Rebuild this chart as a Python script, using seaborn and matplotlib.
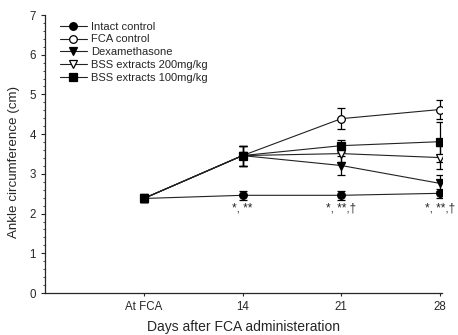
import matplotlib
matplotlib.use("Agg")
import matplotlib.pyplot as plt
import seaborn as sns
import pandas as pd
from matplotlib.ticker import MultipleLocator

# data
days = ["At FCA", "14", "21", "28"]
groups = ["Intact control", "FCA control", "Dexamethasone",
          "BSS extracts 200mg/kg", "BSS extracts 100mg/kg"]
intact = [2.38, 2.46, 2.46, 2.51]
fca = [2.38, 3.46, 4.39, 4.62]
dexa = [2.38, 3.46, 3.21, 2.76]
bss200 = [2.38, 3.46, 3.51, 3.41]
bss100 = [2.38, 3.46, 3.71, 3.81]
intact_err = [0.10, 0.12, 0.12, 0.12]
fca_err = [0.10, 0.25, 0.27, 0.25]
dexa_err = [0.10, 0.25, 0.23, 0.20]
bss200_err = [0.10, 0.25, 0.20, 0.30]
bss100_err = [0.10, 0.25, 0.15, 0.50]
signif = ["", "*, **", "*, **,\u2020", "*, **,\u2020"]

sns.set_style("ticks")
plt.rcParams['font.family'] = ['Liberation Sans', 'DejaVu Sans']

rows = []
for g, vals, errs in zip(groups, [intact, fca, dexa, bss200, bss100],
                         [intact_err, fca_err, dexa_err, bss200_err, bss100_err]):
    for i, (v, e) in enumerate(zip(vals, errs)):
        rows.append({"group": g, "pos": i, "value": v, "err": e})
df = pd.DataFrame(rows)

styles = {
    "Intact control": dict(marker="o", mfc="black"),
    "FCA control": dict(marker="o", mfc="white"),
    "Dexamethasone": dict(marker="v", mfc="black"),
    "BSS extracts 200mg/kg": dict(marker="v", mfc="white"),
    "BSS extracts 100mg/kg": dict(marker="s", mfc="black"),
}

fig = plt.figure(figsize=(4.58, 3.35), dpi=100)
ax = fig.add_axes([45 / 458, 1 - 293 / 335, 397 / 458, 278 / 335])

for g in groups:
    sub = df[df.group == g]
    st = styles[g]
    ax.errorbar(sub.pos, sub.value, yerr=sub.err, fmt="none", ecolor="black",
                elinewidth=0.9, capsize=3, capthick=0.9, zorder=2)
    sns.lineplot(data=sub, x="pos", y="value", ax=ax, color="#222222", lw=0.8,
                 marker=st["marker"], markersize=5.5, markerfacecolor=st["mfc"],
                 markeredgecolor="black", markeredgewidth=0.9, label=g, zorder=3)

for i, s in enumerate(signif):
    if s:
        ax.text(i, 2.12, s, ha="center", va="center", fontsize=8.5)

ax.set_xlim(-1, 3.02)
ax.set_ylim(0, 7)
ax.set_xticks(range(len(days)))
ax.set_xticklabels(days)
ax.yaxis.set_minor_locator(MultipleLocator(0.2))
ax.tick_params(axis="both", labelsize=8.3, length=3, width=0.8)
ax.tick_params(axis="y", which="minor", length=1.5, width=0.6)
ax.tick_params(axis="x", length=2)
sns.despine(ax=ax)
for sp in ax.spines.values():
    sp.set_linewidth(0.9)
ax.set_xlabel("Days after FCA administeration", fontsize=10)
ax.set_ylabel("Ankle circumference (cm)", fontsize=9.6)
ax.xaxis.set_label_coords(0.5, -0.098)
ax.yaxis.set_label_coords(-0.062, 0.47)

ax.legend(loc="upper left", bbox_to_anchor=(0.02, 1.0), frameon=False,
          fontsize=8, handlelength=2.5, handletextpad=0.35, labelspacing=0.25,
          borderaxespad=0.2)

fig.savefig("out.png", dpi=100)
